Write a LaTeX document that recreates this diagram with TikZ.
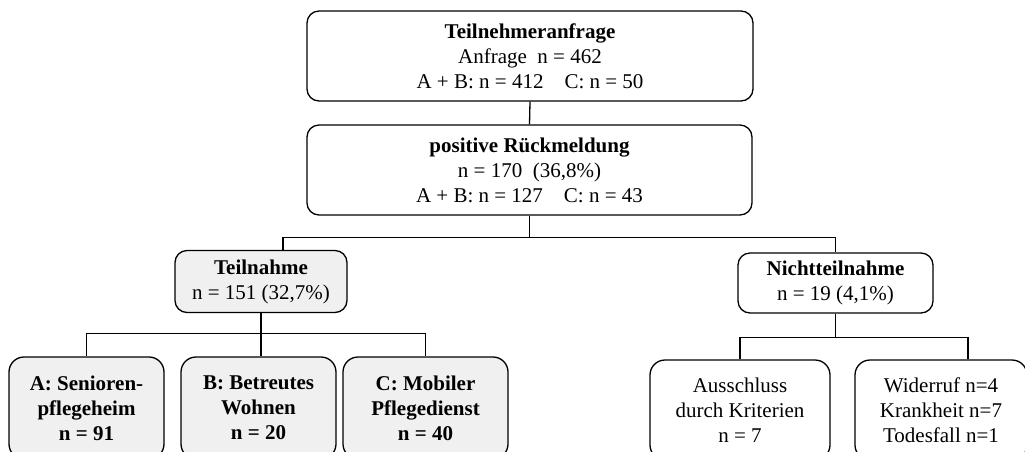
\documentclass[tikz,border=0pt]{standalone}
\usepackage{fontspec}
\setmainfont{Liberation Serif}
\begin{document}
\begin{tikzpicture}[x=1pt,y=-1pt,
  box/.style={draw, line width=1.3pt, rounded corners=12pt, align=center, inner sep=0pt,
    font=\fontsize{21}{25}\selectfont},
  grey/.style={fill=black!6},
  conn/.style={line width=1.3pt}]
\useasboundingbox (0,0) rectangle (1025,451);
\clip (0,0) rectangle (1025,451);

\node[box, minimum width=446pt, minimum height=90pt] (req) at (530,56)
  {\textbf{Teilnehmeranfrage}\\Anfrage\ \ n = 462\\A + B: n = 412\quad C: n = 50};
\node[box, minimum width=445pt, minimum height=90pt] (pos) at (529.5,170)
  {\textbf{positive Rückmeldung}\\n = 170\ \ (36,8\%)\\A + B: n = 127\quad C: n = 43};

\node[box, grey, minimum width=172pt, minimum height=62pt] (teil) at (261,281.5)
  {\textbf{Teilnahme}\\n = 151 (32,7\%)};
\node[box, minimum width=195pt, minimum height=60pt] (nicht) at (835.5,283)
  {\textbf{Nichtteilnahme}\\n = 19 (4,1\%)};

\node[box, grey, rounded corners=15pt, minimum width=155pt, minimum height=102pt] (A) at (86.5,408)
  {\textbf{A: Senioren-}\\\textbf{pflegeheim}\\\textbf{n = 91}};
\node[box, grey, rounded corners=15pt, minimum width=155pt, minimum height=102pt] (B) at (258.5,408)
  {\textbf{B: Betreutes}\\\textbf{Wohnen}\\\textbf{n = 20}};
\node[box, grey, rounded corners=15pt, minimum width=165pt, minimum height=102pt] (C) at (425.5,408)
  {\textbf{C: Mobiler}\\\textbf{Pflegedienst}\\\textbf{n = 40}};

\node[box, rounded corners=15pt, minimum width=180pt, minimum height=100pt] (aus) at (740,410)
  {Ausschluss\\durch Kriterien\\n = 7};
\node[box, rounded corners=15pt, minimum width=172pt, minimum height=100pt] (wid) at (941,410)
  {Widerruf n=4\\Krankheit n=7\\Todesfall n=1};

% connectors
\draw[conn] (req.south) -- (pos.north);
\draw[conn] (pos.south) -- ++(0,22) coordinate (j1);
\draw[conn] ([xshift=22pt]teil.north) |- (j1) -| (nicht.north);

\draw[conn] (teil.south) -- ++(0,20) coordinate (j2);
\draw[conn] (A.north) |- (j2) -| (C.north);
\draw[conn] (j2) -- (j2 |- B.north);

\draw[conn] (nicht.south) -- ++(0,24) coordinate (j3);
\draw[conn] (aus.north) |- (j3) -| ([xshift=27pt]wid.north);
\end{tikzpicture}
\end{document}
